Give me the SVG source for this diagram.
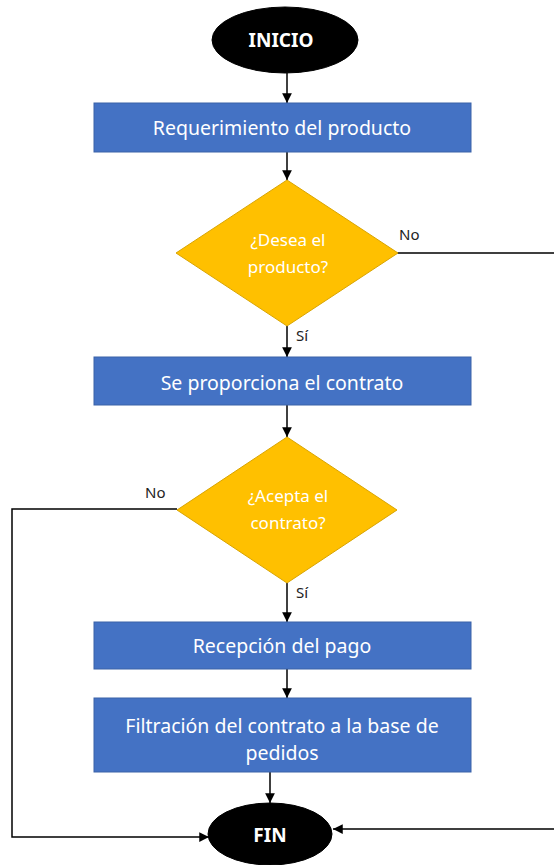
<svg xmlns="http://www.w3.org/2000/svg" width="554" height="865" viewBox="0 0 554 865">
<style>
.term{fill:#000;stroke:#000;stroke-width:1}
.proc{fill:#4472C4;stroke:#3A62A8;stroke-width:1}
.dec{fill:#FFC000;stroke:#D9A400;stroke-width:1}
.t{font-family:"Noto Sans","Open Sans",sans-serif;fill:#fff;text-anchor:middle;dominant-baseline:central}
.pt{font-size:19.5px}
.dt{font-size:17px}
.tt{font-size:19px;font-weight:bold}
.lbl{font-family:"Noto Sans","Open Sans",sans-serif;font-size:15px;fill:#222}
.c{fill:none;stroke:#000;stroke-width:1.5}
</style>
<defs>
<marker id="ah" viewBox="0 0 10 10" refX="10" refY="5" markerWidth="6.5" markerHeight="6.5" markerUnits="strokeWidth" orient="auto">
<path d="M0,0 L10,5 L0,10 z" fill="#000"/>
</marker>
</defs>
<g id="connectors">
<path class="c" d="M287,73 V103" marker-end="url(#ah)"/>
<path class="c" d="M287,152 V180" marker-end="url(#ah)"/>
<path class="c" d="M287,326 V357" marker-end="url(#ah)"/>
<path class="c" d="M287,405 V437" marker-end="url(#ah)"/>
<path class="c" d="M287,583 V622" marker-end="url(#ah)"/>
<path class="c" d="M287,669 V698" marker-end="url(#ah)"/>
<path class="c" d="M270,772 V803" marker-end="url(#ah)"/>
<path class="c" d="M397,253 H560 V829 H333" marker-end="url(#ah)"/>
<path class="c" d="M177,509 H12 V837 H209" marker-end="url(#ah)"/>
<text class="lbl" x="399" y="240">No</text>
<text class="lbl" x="296" y="341">Sí</text>
<text class="lbl" x="145" y="498">No</text>
<text class="lbl" x="296" y="598">Sí</text>
</g>
<g id="inicio">
<ellipse class="term" cx="285" cy="40" rx="73" ry="33"/>
<text class="t tt" x="281" y="40">INICIO</text>
</g>
<g id="requerimiento">
<rect class="proc" x="94" y="103" width="377" height="49"/>
<text class="t pt" x="282" y="127">Requerimiento del producto</text>
</g>
<g id="desea">
<polygon class="dec" points="287,180 398,253 287,326 176,253"/>
<text class="t dt" x="288" y="239">¿Desea el</text>
<text class="t dt" x="288" y="266">producto?</text>
</g>
<g id="contrato">
<rect class="proc" x="94" y="357" width="377" height="48"/>
<text class="t pt" x="282" y="382">Se proporciona el contrato</text>
</g>
<g id="acepta">
<polygon class="dec" points="287,437 397,510 287,583 177,510"/>
<text class="t dt" x="288" y="495">¿Acepta el</text>
<text class="t dt" x="288" y="522">contrato?</text>
</g>
<g id="pago">
<rect class="proc" x="94" y="622" width="377" height="47"/>
<text class="t pt" x="282" y="645">Recepción del pago</text>
</g>
<g id="filtracion">
<rect class="proc" x="94" y="698" width="377" height="74"/>
<text class="t pt" x="282" y="725">Filtración del contrato a la base de</text>
<text class="t pt" x="282" y="752">pedidos</text>
</g>
<g id="fin">
<ellipse class="term" cx="270" cy="834" rx="62" ry="31"/>
<text class="t tt" x="270" y="835">FIN</text>
</g>
</svg>
